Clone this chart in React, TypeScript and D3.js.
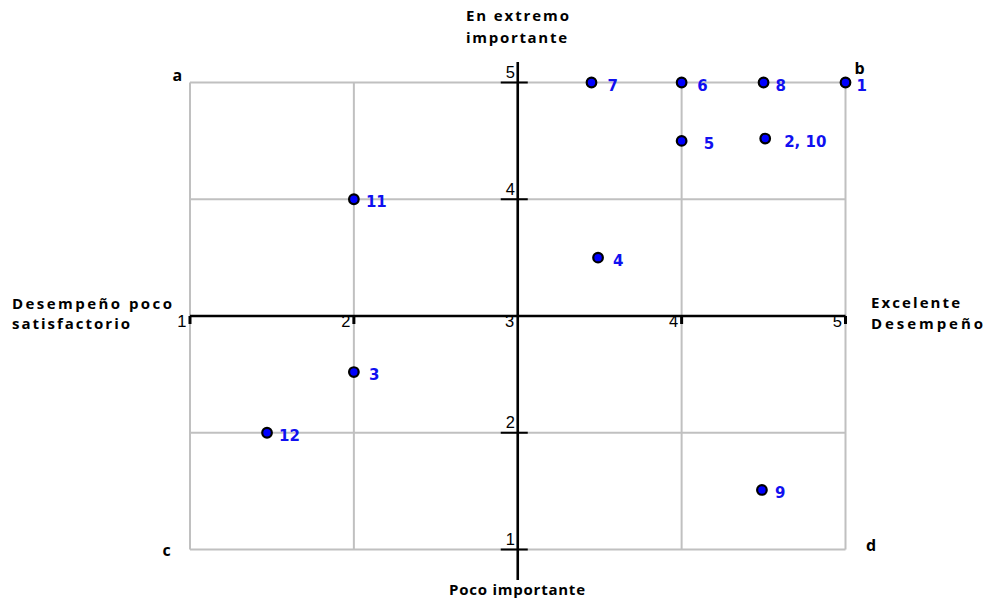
import React from "react";
import * as d3 from "d3";

const pointLabels = ["7", "6", "8", "1", "5", "2, 10", "11", "4", "3", "12", "9"];
const performance = [3.45, 4, 4.5, 5, 4, 4.51, 2, 3.49, 2, 1.47, 4.49];
const importance = [5, 5, 5, 5, 4.5, 4.52, 4, 3.5, 2.52, 2, 1.51];
const gridTicks = [1, 2, 3, 4, 5];
const xTickLabels = ["1", "2", "3", "4", "5"];
const yTickValues = [5, 4, 2, 1];

// style: label horizontal offsets from dot centre
const labelDx = [16, 15.5, 12, 11, 22, 19, 12, 15, 15, 12, 13];

const W = 987;
const H = 600;

export default function App() {
  const x = d3.scaleLinear().domain([1, 5]).range([190, 845.5]);
  const y = d3.scaleLinear().domain([1, 5]).range([549.5, 82.5]);
  const cx = x(3);
  const cy = y(3);
  const grid = "#c0c0c0";
  const titleFont = "'Open Sans', 'DejaVu Sans', sans-serif";
  const tickFont = "'Liberation Sans', Arial, sans-serif";

  return (
    <div style={{ position: "absolute", left: 0, top: 0 }}>
      <svg width={W} height={H} style={{ display: "block", background: "#fff" }}>
        {/* grid */}
        {gridTicks.map((t) => (
          <line key={"gv" + t} x1={x(t)} x2={x(t)} y1={y(5)} y2={y(1)} stroke={grid} strokeWidth={2} />
        ))}
        {gridTicks.map((t) => (
          <line key={"gh" + t} x1={x(1)} x2={x(5)} y1={y(t)} y2={y(t)} stroke={grid} strokeWidth={2} />
        ))}
        {/* axes */}
        <line x1={x(1)} x2={x(5)} y1={cy} y2={cy} stroke="#000" strokeWidth={2.6} />
        <line x1={cx} x2={cx} y1={62} y2={580} stroke="#000" strokeWidth={2.6} />
        {/* x ticks */}
        {gridTicks.filter((t) => t !== 3).map((t) => (
          <line key={"xt" + t} x1={x(t)} x2={x(t)} y1={cy} y2={cy + 8} stroke="#000" strokeWidth={3} />
        ))}
        {gridTicks.map((t, i) => (
          <text key={"xl" + t} x={x(t) - 3.5} y={327} textAnchor="end" fontFamily={tickFont} fontSize={16.5} fill="#000">
            {xTickLabels[i]}
          </text>
        ))}
        {/* y ticks */}
        {yTickValues.map((t) => (
          <line key={"yt" + t} x1={cx - 17} x2={cx + 10} y1={y(t)} y2={y(t)} stroke="#000" strokeWidth={2} />
        ))}
        {yTickValues.map((t) => (
          <text key={"yl" + t} x={515} y={y(t) - 4.5} textAnchor="end" fontFamily={tickFont} fontSize={16.5} fill="#000">
            {String(t)}
          </text>
        ))}
        {/* axis titles */}
        <g fontFamily={titleFont} fontWeight="bold" fontSize={15} fill="#000">
          <text x={466} y={21} textLength={103} lengthAdjust="spacing">En extremo</text>
          <text x={466} y={43} textLength={101} lengthAdjust="spacing">importante</text>
          <text x={449} y={595} textLength={136} lengthAdjust="spacing">Poco importante</text>
          <text x={12} y={309} textLength={160} lengthAdjust="spacing">Desempeño poco</text>
          <text x={12} y={329} textLength={118} lengthAdjust="spacing">satisfactorio</text>
          <text x={871} y={308} textLength={89} lengthAdjust="spacing">Excelente</text>
          <text x={871} y={329} textLength={112} lengthAdjust="spacing">Desempeño</text>
        </g>
        {/* corner letters */}
        <g fontFamily={titleFont} fontWeight="bold" fontSize={16} fill="#000">
          <text x={172.5} y={80.5}>a</text>
          <text x={854.5} y={73.5}>b</text>
          <text x={162.5} y={555.5}>c</text>
          <text x={866} y={551}>d</text>
        </g>
        {/* points */}
        {pointLabels.map((lab, i) => (
          <g key={"p" + i}>
            <circle cx={x(performance[i])} cy={y(importance[i])} r={4.8} fill="#0000ff" stroke="#000" strokeWidth={2.2} />
            <text
              x={x(performance[i]) + labelDx[i]}
              y={y(importance[i]) + 8}
              fontFamily="'DejaVu Sans', Verdana, sans-serif"
              fontWeight="bold"
              fontSize={15}
              fill="#1010f0"
            >
              {lab}
            </text>
          </g>
        ))}
      </svg>
    </div>
  );
}
